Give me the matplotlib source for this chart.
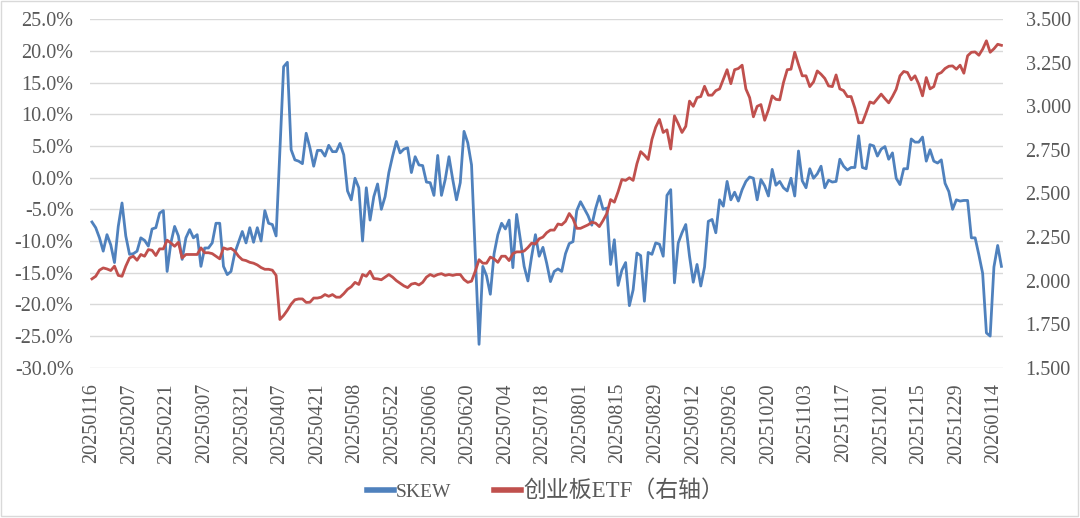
import numpy as np
import matplotlib
matplotlib.use("Agg")
from matplotlib import pyplot as plt
from matplotlib.ticker import FuncFormatter, MultipleLocator
from matplotlib.patches import Rectangle

# SKEW, in percent, one value per trading day (20250116 .. 20260116)
skew = [
    -7.0, -7.9, -9.5, -11.6, -9.0, -10.6, -13.4, -7.7, -4.0, -9.2,
    -12.1, -12.0, -11.6, -9.5, -9.9, -10.8, -8.1, -7.9, -5.6, -5.2,
    -14.8, -10.3, -7.7, -9.2, -12.9, -9.5, -8.2, -9.5, -9.0, -14.0,
    -11.1, -11.1, -10.3, -7.2, -7.2, -14.0, -15.3, -14.8, -11.9, -10.2,
    -8.5, -10.3, -7.9, -10.2, -7.9, -10.0, -5.2, -7.2, -7.4, -9.2,
    4.0, 17.5, 18.2, 4.4, 2.8, 2.6, 2.2, 7.0, 4.7, 1.8,
    4.3, 4.3, 3.4, 5.1, 4.1, 4.1, 5.4, 3.6, -2.1, -3.5,
    -0.1, -1.6, -10.0, -1.6, -6.7, -3.0, -1.0, -5.0, -3.0, 0.8,
    3.4, 5.7, 3.9, 4.5, 4.7, 0.8, 3.3, 2.0, 1.9, -0.7,
    -0.8, -2.8, 3.5, -2.8, -0.3, 3.3, -0.3, -3.5, -0.8, 7.3,
    5.5, 2.0, -12.0, -26.3, -14.0, -15.5, -18.4, -12.0, -9.0, -7.2,
    -8.1, -6.7, -14.2, -5.8, -9.8, -14.0, -16.3, -12.4, -9.0, -12.4,
    -11.0, -13.5, -16.4, -14.8, -14.4, -14.8, -12.0, -10.4, -10.1, -5.2,
    -3.8, -4.9, -6.0, -7.5, -4.9, -2.9, -5.0, -4.8, -13.7, -9.8,
    -17.0, -14.6, -13.4, -20.2, -17.7, -11.9, -12.3, -19.5, -11.8, -12.1,
    -10.3, -10.5, -12.4, -2.8, -1.9, -16.6, -10.3, -8.7, -7.4, -12.4,
    -16.5, -13.7, -17.1, -14.1, -6.9, -6.6, -8.7, -3.5, -4.5, -0.6,
    -3.5, -2.3, -3.7, -1.9, -0.6, 0.1, -0.1, -3.5, -0.3, -1.3,
    -2.9, 1.3, -1.2, -0.6, -1.6, -2.1, -0.1, -2.9, 4.2, -0.5,
    -1.6, 1.4, -0.1, 0.6, 1.8, -1.6, -0.4, -0.7, -0.6, 2.9,
    1.8, 1.2, 1.6, 1.6, 6.6, 1.6, 1.4, 5.2, 5.0, 3.4,
    4.5, 4.9, 2.9, 3.9, -0.1, -1.1, 1.4, 1.4, 6.1, 5.6,
    5.6, 6.4, 2.6, 4.4, 2.6, 2.3, 2.8, -0.9, -2.2, -5.0,
    -3.5, -3.7, -3.6, -3.6, -9.5, -9.5, -12.2, -15.1, -24.5, -25.0,
    -14.1, -10.7, -14.0,
]

# ChiNext ETF close (right axis)
etf = [
    2.010, 2.025, 2.060, 2.073, 2.067, 2.058, 2.083, 2.030, 2.025, 2.083,
    2.130, 2.140, 2.117, 2.150, 2.140, 2.178, 2.174, 2.144, 2.182, 2.182,
    2.232, 2.216, 2.197, 2.220, 2.130, 2.150, 2.150, 2.150, 2.150, 2.188,
    2.160, 2.160, 2.155, 2.140, 2.125, 2.188, 2.180, 2.185, 2.170, 2.140,
    2.120, 2.115, 2.105, 2.100, 2.090, 2.075, 2.065, 2.065, 2.060, 2.030,
    1.777, 1.800, 1.830, 1.865, 1.890, 1.895, 1.895, 1.875, 1.876, 1.900,
    1.900, 1.905, 1.920, 1.910, 1.920, 1.905, 1.905, 1.925, 1.950, 1.965,
    1.990, 1.978, 2.035, 2.025, 2.054, 2.012, 2.010, 2.005, 2.020, 2.035,
    2.020, 2.000, 1.985, 1.970, 1.960, 1.980, 1.985, 1.975, 1.990, 2.020,
    2.035, 2.025, 2.035, 2.040, 2.030, 2.035, 2.030, 2.035, 2.035, 2.006,
    1.990, 1.997, 2.054, 2.120, 2.100, 2.100, 2.135, 2.125, 2.105, 2.140,
    2.140, 2.115, 2.155, 2.165, 2.165, 2.170, 2.190, 2.215, 2.210, 2.240,
    2.250, 2.275, 2.290, 2.290, 2.325, 2.320, 2.340, 2.385, 2.355, 2.300,
    2.300, 2.310, 2.320, 2.335, 2.330, 2.310, 2.345, 2.385, 2.465, 2.450,
    2.510, 2.580, 2.575, 2.590, 2.575, 2.670, 2.740, 2.720, 2.695, 2.810,
    2.880, 2.925, 2.850, 2.865, 2.755, 2.945, 2.900, 2.850, 2.885, 3.030,
    3.000, 3.050, 3.056, 3.115, 3.064, 3.064, 3.090, 3.100, 3.155, 3.210,
    3.130, 3.210, 3.217, 3.236, 3.100, 3.050, 2.940, 3.000, 3.010, 2.920,
    2.980, 3.060, 3.040, 3.037, 3.136, 3.210, 3.213, 3.310, 3.240, 3.175,
    3.175, 3.113, 3.140, 3.203, 3.184, 3.160, 3.117, 3.113, 3.180, 3.100,
    3.090, 3.056, 3.056, 2.990, 2.906, 2.906, 2.964, 3.025, 3.017, 3.044,
    3.070, 3.044, 3.020, 3.056, 3.098, 3.175, 3.200, 3.194, 3.152, 3.175,
    3.127, 3.060, 3.165, 3.100, 3.113, 3.184, 3.194, 3.217, 3.230, 3.232,
    3.213, 3.236, 3.190, 3.290, 3.310, 3.312, 3.293, 3.328, 3.376, 3.310,
    3.330, 3.356, 3.350,
]

tick_labels = [
    "20250116", "20250207", "20250221", "20250307", "20250321", "20250407",
    "20250421", "20250508", "20250522", "20250606", "20250620", "20250704",
    "20250718", "20250801", "20250815", "20250829", "20250912", "20250926",
    "20251020", "20251103", "20251117", "20251201", "20251215", "20251229",
    "20260114",
]

blue = "#4F81BD"
red = "#C0504D"
grey = "#595959"
serif = ["Liberation Serif", "DejaVu Serif"]

x = np.arange(len(skew))

fig = plt.figure(figsize=(10.8, 5.18), dpi=100)
ax = fig.add_axes([0.0834, 0.29, 0.8456, 0.673])
ax2 = ax.twinx()

l1, = ax.plot(x, skew, color=blue, lw=2.0, label="SKEW", solid_joinstyle="round")
l2, = ax2.plot(x, etf, color=red, lw=2.0, label="创业板ETF（右轴）", solid_joinstyle="round")

ax.set_xlim(-0.5, len(skew) - 0.5)
ax.set_ylim(-30, 25)
ax2.set_ylim(1.5, 3.5)
ax.yaxis.set_major_locator(MultipleLocator(5))
ax2.yaxis.set_major_locator(MultipleLocator(0.25))
ax.yaxis.set_major_formatter(FuncFormatter(lambda v, _: f"{v:.1f}%".replace("−", "-")))
ax2.yaxis.set_major_formatter(FuncFormatter(lambda v, _: f"{v:.3f}"))

ax.set_xticks(np.arange(0, len(skew), 10))
ax.set_xticklabels(tick_labels, rotation=90)

ax.grid(axis="y", color="#D9D9D9", lw=1.0)
ax.set_axisbelow(True)
for a in (ax, ax2):
    for s in a.spines.values():
        s.set_visible(False)
    a.tick_params(length=0, labelsize=14.5, labelcolor=grey)
    for t in a.get_xticklabels() + a.get_yticklabels():
        t.set_fontfamily(serif)
ax.tick_params(axis="y", pad=12)
ax2.tick_params(axis="y", pad=16)
ax.tick_params(axis="x", pad=11)

leg = fig.legend(handles=[l1, l2], loc="center", bbox_to_anchor=(0.505, 0.052),
                 ncol=2, frameon=False, handlelength=1.4, columnspacing=2.2,
                 handletextpad=0.1,
                 prop={"family": ["Liberation Serif", "Noto Sans CJK SC"], "size": 14})
for t in leg.get_texts():
    t.set_color(grey)
leg.get_texts()[1].set_fontsize(16.5)
for h in leg.get_lines():
    h.set_linewidth(4)

fig.patches.append(Rectangle((0.001, 0.004), 0.997, 0.994, transform=fig.transFigure,
                             fill=False, edgecolor="#D9D9D9", lw=1.0))

fig.savefig("out.png", dpi=100)
